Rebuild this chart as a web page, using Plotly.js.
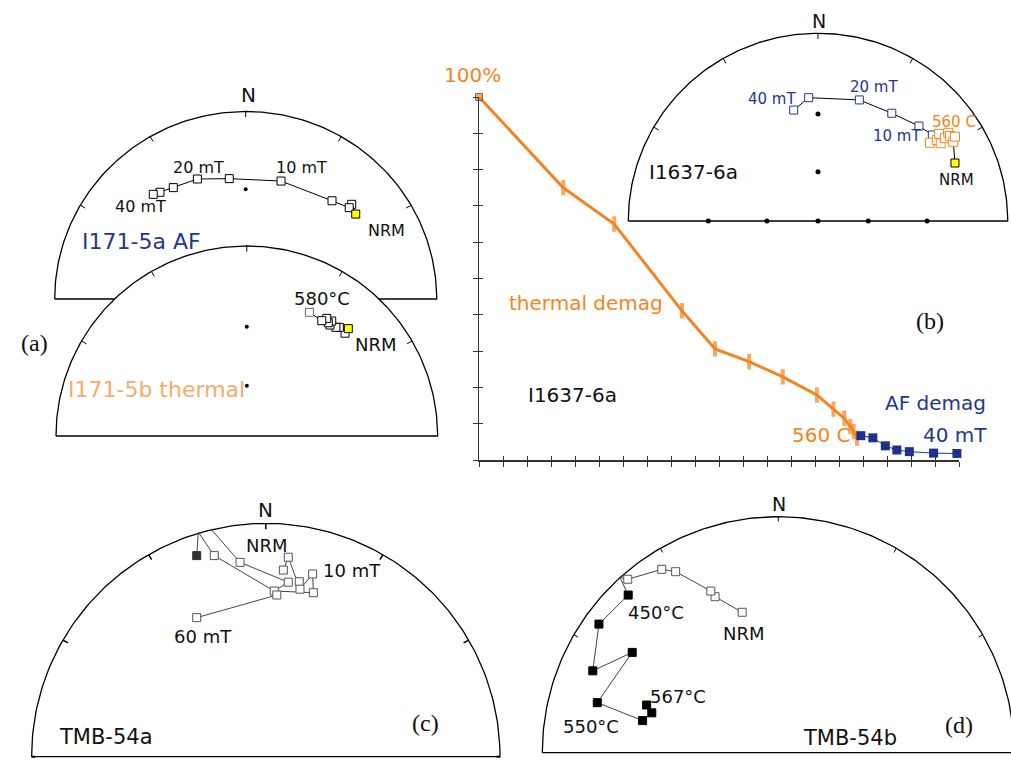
<!DOCTYPE html>
<html><head><meta charset="utf-8">
<script src="https://cdn.plot.ly/plotly-3.0.1.min.js"></script>
<style>body{margin:0;background:#fff}#chart{width:1011px;height:762px}</style>
</head><body><div id="chart"></div>
<script>
// ================= DATA =================
// (b) intensity decay of I1637-6a (percent of NRM vs. demag step index)
const thermalStep = [0, 3.51, 5.63, 8.45, 9.83, 11.25, 12.65, 14.07, 14.76, 15.21, 15.46, 15.60, 15.74];
const thermalPct  = [100, 75.0, 65.0, 41.1, 30.6, 27.1, 22.9, 17.9, 14.0, 11.5, 9.2, 7.8, 6.0];
const afStep = [15.90, 16.40, 16.92, 17.40, 17.92, 18.93, 19.90];
const afPct  = [6.7, 6.1, 3.9, 2.75, 2.3, 1.9, 1.8];

// Directions on equal-area nets, as unit-radius coordinates (E = east, N = north)
// (a) I171-5a AF : NRM -> 40 mT
const a1E = [0.576, 0.555, 0.542, 0.452, 0.185, -0.086, -0.253, -0.379, -0.449, -0.484];
const a1N = [0.453, 0.505, 0.487, 0.524, 0.629, 0.642, 0.640, 0.594, 0.569, 0.558];
const a1DotE = [0], a1DotN = [0.585];
// (a) I171-5b thermal : NRM -> 580°C
const a2E = [0.532, 0.515, 0.485, 0.467, 0.436, 0.445, 0.427, 0.419, 0.393, 0.328];
const a2N = [0.565, 0.541, 0.572, 0.572, 0.584, 0.605, 0.596, 0.619, 0.607, 0.651];
const a2DotE = [0, 0], a2DotN = [0.575, 0.265];
// (b) I1637-6a : NRM -> thermal cluster -> AF 10 ... 40 mT
const bPathE = [0.722, 0.713, 0.603, 0.532, 0.389, 0.218, -0.049, -0.128];
const bPathN = [0.309, 0.422, 0.458, 0.506, 0.574, 0.645, 0.657, 0.591];
const bAfE = [0.603, 0.532, 0.389, 0.218, -0.049, -0.128];
const bAfN = [0.458, 0.506, 0.574, 0.645, 0.657, 0.591];
const bThE = [0.590, 0.626, 0.638, 0.647, 0.669, 0.687, 0.696, 0.713, 0.722];
const bThN = [0.417, 0.432, 0.464, 0.414, 0.441, 0.470, 0.453, 0.422, 0.449];
const bNrmE = [0.722], bNrmN = [0.309];
const bDotE = [0, 0, -0.578, -0.269, 0, 0.265, 0.575];
const bDotN = [0.570, 0.263, 0, 0, 0, 0, 0];
// (c) TMB-54a AF (null = path leaves the net and re-enters)
const cPathE = [0.075, 0.096, 0.146, 0.200, 0.203, 0.036, 0.096, -0.110, -0.231, null, -0.288, -0.295, null, -0.288, -0.220, 0.036, 0.047, -0.295];
const cPathN = [0.800, 0.855, 0.718, 0.783, 0.703, 0.710, 0.748, 0.833, 0.972, null, 0.962, 0.862, null, 0.962, 0.862, 0.710, 0.693, 0.596];
const cOpenE = [0.096, 0.075, 0.096, 0.143, 0.146, 0.200, 0.203, 0.036, 0.047, -0.110, -0.220, -0.295];
const cOpenN = [0.855, 0.800, 0.748, 0.750, 0.718, 0.783, 0.703, 0.710, 0.693, 0.833, 0.862, 0.596];
const cFillE = [-0.295], cFillN = [0.862];
// (d) TMB-54b thermal
const dOpenE = [-0.153, -0.268, -0.286, -0.435, -0.494, -0.638, -0.671];
const dOpenN = [0.595, 0.661, 0.685, 0.767, 0.777, 0.735, 0.743];
const dFillE = [-0.671, -0.636, -0.760, -0.786, -0.619, -0.767, -0.575, -0.536, -0.558];
const dFillN = [0.743, 0.668, 0.545, 0.347, 0.425, 0.212, 0.136, 0.169, 0.202];

// ================= LAYOUT / STYLE =================
const W = 1011, H = 762;
const ORANGE = '#f28522', BLUE = '#24378e', LORANGE = '#f8aa6c';
const FONT = 'DejaVu Sans, Verdana, sans-serif';
const SERIF = 'Liberation Serif, Times New Roman, serif';

const geom = {
  2: {cx: 245.7, cy: 299, rx: 191, ry: 187.5},
  3: {cx: 246.8, cy: 436, rx: 190.8, ry: 190},
  4: {cx: 818, cy: 221, rx: 189.7, ry: 187.7},
  5: {cx: 265.8, cy: 756.7, rx: 234.2, ry: 233.3},
  6: {cx: 778.3, cy: 752.7, rx: 236, ry: 236}
};

const layout = {
  width: W, height: H, autosize: false,
  margin: {l: 0, r: 0, t: 0, b: 0},
  paper_bgcolor: '#fff', plot_bgcolor: 'rgba(0,0,0,0)',
  showlegend: false, hovermode: false,
  annotations: []
};

// demag axes
const demX = {domain: [479 / W, 959.3 / W], range: [0, 20], dtick: 1, tick0: 0};
const demY = {domain: [1 - 460 / H, 1 - 97 / H], range: [0, 100], dtick: 10, tick0: 0};
layout.xaxis = Object.assign({anchor: 'y', showline: true, linecolor: '#333', linewidth: 1.5, ticks: 'outside', ticklen: 5,
  tickcolor: '#333', tickwidth: 1, showticklabels: false, showgrid: false, zeroline: false, fixedrange: true}, demX);
layout.yaxis = Object.assign({anchor: 'x', showline: true, linecolor: '#333', linewidth: 1.5, ticks: 'outside', ticklen: 5,
  tickcolor: '#333', tickwidth: 1, showticklabels: false, showgrid: false, zeroline: false, fixedrange: true}, demY);
layout.xaxis7 = {overlaying: 'x', anchor: 'y', side: 'bottom', range: [0, 20], dtick: 1, tick0: 0, ticks: 'inside', ticklen: 4,
  tickcolor: '#333', tickwidth: 1, showline: false, showticklabels: false, showgrid: false, zeroline: false};
layout.yaxis7 = {overlaying: 'y', anchor: 'x', side: 'left', range: [0, 100], dtick: 10, tick0: 0, ticks: 'inside', ticklen: 4,
  tickcolor: '#333', tickwidth: 1, showline: false, showticklabels: false, showgrid: false, zeroline: false};

// stereonet axes
Object.keys(geom).forEach(n => {
  const g = geom[n];
  const x0 = Math.max(0, g.cx - 1.12 * g.rx), x1 = Math.min(W, g.cx + 1.12 * g.rx);
  const yt = Math.max(0, g.cy - 1.2 * g.ry), yb = Math.min(H, g.cy + 0.06 * g.ry);
  layout['xaxis' + n] = {domain: [x0 / W, x1 / W], range: [(x0 - g.cx) / g.rx, (x1 - g.cx) / g.rx],
    anchor: 'y' + n, visible: false, fixedrange: true};
  layout['yaxis' + n] = {domain: [1 - yb / H, 1 - yt / H], range: [(g.cy - yb) / g.ry, (g.cy - yt) / g.ry],
    anchor: 'x' + n, visible: false, fixedrange: true};
});

// ================= TRACES =================
const traces = [];
// demag curve
traces.push({type: 'scatter', mode: 'lines+markers', x: thermalStep, y: thermalPct, cliponaxis: false,
  line: {color: ORANGE, width: 3},
  marker: {symbol: thermalStep.map((v, i) => i === 0 ? 'square' : 'line-ns'),
           size: thermalStep.map((v, i) => i === 0 ? 7 : 11),
           color: ORANGE,
           line: {color: thermalStep.map((v, i) => i === 0 ? '#5a3000' : ORANGE),
                  width: thermalStep.map((v, i) => i === 0 ? 1 : 4)}}});
traces.push({type: 'scatter', mode: 'lines+markers', x: afStep, y: afPct, cliponaxis: false,
  line: {color: BLUE, width: 1}, marker: {symbol: 'square', size: 9, color: '#1c3090', line: {width: 0}}});
traces.push({type: 'scatter', mode: 'markers', x: [null], y: [null], xaxis: 'x7', yaxis: 'y7'});

function netOutline(n) {
  const xs = [], ys = [];
  for (let a = -90; a <= 90; a += 1) { const t = a * Math.PI / 180; xs.push(Math.sin(t)); ys.push(Math.cos(t)); }
  xs.push(-1); ys.push(0);
  return {type: 'scatter', mode: 'lines', x: xs, y: ys, xaxis: 'x' + n, yaxis: 'y' + n,
    fill: 'toself', fillcolor: '#fff', line: {color: '#000', width: 1.3}};
}
function netTicks(n, angles, len, width) {
  const xs = [], ys = [];
  angles.forEach(a => { const t = a * Math.PI / 180;
    xs.push(Math.sin(t), (1 - len) * Math.sin(t), null); ys.push(Math.cos(t), (1 - len) * Math.cos(t), null); });
  return {type: 'scatter', mode: 'lines', x: xs, y: ys, xaxis: 'x' + n, yaxis: 'y' + n, line: {color: '#000', width: width || 1}};
}
function path(n, xs, ys, color) {
  return {type: 'scatter', mode: 'lines', x: xs, y: ys, xaxis: 'x' + n, yaxis: 'y' + n,
    connectgaps: false, line: {color: color || '#000', width: 1}};
}
function squares(n, xs, ys, fill, edge, size) {
  return {type: 'scatter', mode: 'markers', x: xs, y: ys, xaxis: 'x' + n, yaxis: 'y' + n, cliponaxis: false,
    marker: {symbol: 'square', size: size || 8, color: fill, line: {color: edge, width: 1}}};
}
function dots(n, xs, ys, size) {
  return {type: 'scatter', mode: 'markers', x: xs, y: ys, xaxis: 'x' + n, yaxis: 'y' + n,
    marker: {symbol: 'circle', size: size || 4, color: '#000'}};
}
const tickAngles = [-60, -30, 0, 30, 60];

// (a) upper
traces.push(netOutline(2), netTicks(2, tickAngles, 0.03), dots(2, a1DotE, a1DotN));
traces.push(path(2, a1E, a1N));
traces.push(squares(2, a1E.slice(1), a1N.slice(1), '#fff', '#000'));
traces.push(squares(2, a1E.slice(0, 1), a1N.slice(0, 1), '#ffff00', '#000'));
// (a) lower
traces.push(netOutline(3), netTicks(3, tickAngles, 0.03), dots(3, a2DotE, a2DotN));
traces.push(path(3, a2E, a2N));
traces.push(squares(3, a2E.slice(-1), a2N.slice(-1), '#fff', '#666'));
traces.push(squares(3, a2E.slice(1, -1), a2N.slice(1, -1), '#fff', '#000'));
traces.push(squares(3, a2E.slice(0, 1), a2N.slice(0, 1), '#ffff00', '#000'));
// (b) stereonet
traces.push(netOutline(4), netTicks(4, tickAngles, 0.03), dots(4, bDotE, bDotN, 5));
traces.push(path(4, bPathE, bPathN));
traces.push(squares(4, bAfE, bAfN, '#fff', BLUE));
traces.push(squares(4, bThE, bThN, '#fff', ORANGE, 9));
traces.push(squares(4, bNrmE, bNrmN, '#ffff00', '#000'));
// (c)
traces.push(netOutline(5), netTicks(5, tickAngles, 0.025, 1.5), netTicks(5, [-90, 90], 0.015, 2));
traces.push(path(5, cPathE, cPathN, '#444'));
traces.push(squares(5, cOpenE, cOpenN, '#fff', '#555'));
traces.push(squares(5, cFillE, cFillN, '#333', '#333'));
// (d)
traces.push(netOutline(6), netTicks(6, tickAngles, 0.02));
traces.push(path(6, dOpenE, dOpenN, '#444'), path(6, dFillE, dFillN, '#444'));
traces.push(squares(6, dOpenE.slice(0, -1), dOpenN.slice(0, -1), '#fff', '#555'));
traces.push(squares(6, dFillE.slice(1), dFillN.slice(1), '#000', '#000'));

// ================= TEXT =================
function lab(text, n, x, y, size, color, extra) {
  return Object.assign({text: text, xref: 'x' + n, yref: 'y' + n, x: x, y: y, showarrow: false,
    font: {family: FONT, size: size, color: color || '#111'}}, extra || {});
}
const A = layout.annotations;
// (a)
A.push(lab('N', 2, 0.014, 1.088, 20), lab('20 mT', 2, -0.248, 0.702, 16), lab('10 mT', 2, 0.293, 0.702, 16),
  lab('40 mT', 2, -0.553, 0.492, 16), lab('NRM', 2, 0.738, 0.368, 16), lab('I171-5a AF', 2, -0.548, 0.306, 22, BLUE));
A.push(lab('580°C', 3, 0.393, 0.725, 18), lab('NRM', 3, 0.676, 0.484, 18), lab('I171-5b thermal', 3, -0.472, 0.246, 22, LORANGE));
A.push({text: '(a)', xref: 'paper', yref: 'paper', x: 19 / W, y: 1 - 343 / H, showarrow: false, font: {family: SERIF, size: 24, color: '#111'}});
// (b) demag
A.push(lab('100%', '', 0, 100, 20, ORANGE, {yshift: 22, xshift: -7}), lab('thermal demag', '', 4.47, 43.2, 20, ORANGE),
  lab('I1637-6a', '', 3.89, 17.9, 20), lab('560 C', '', 14.28, 6.9, 20, ORANGE), lab('AF demag', '', 19.02, 15.6, 20, BLUE),
  lab('40 mT', '', 19.82, 6.9, 20, BLUE), lab('(b)', '', 18.79, 38.3, 24, '#111', {font: {family: SERIF, size: 24, color: '#111'}}));
// (b) net
A.push(lab('N', 4, 0.005, 1.067, 19), lab('40 mT', 4, -0.240, 0.650, 15, BLUE), lab('20 mT', 4, 0.293, 0.712, 15, BLUE),
  lab('10 mT', 4, 0.415, 0.453, 15, BLUE), lab('560 C', 4, 0.717, 0.529, 15, ORANGE), lab('NRM', 4, 0.731, 0.218, 15),
  lab('I1637-6a', 4, -0.655, 0.259, 20));
// (c)
A.push(lab('N', 5, 0, 1.057, 20), lab('NRM', 5, 0.004, 0.907, 18), lab('10 mT', 5, 0.367, 0.800, 18),
  lab('60 mT', 5, -0.269, 0.514, 18), lab('TMB-54a', 5, -0.682, 0.083, 21),
  lab('(c)', 5, 0.684, 0.143, 24, '#111', {font: {family: SERIF, size: 24, color: '#111'}}));
// (d)
A.push(lab('N', 6, 0.004, 1.054, 19), lab('450°C', 6, -0.519, 0.593, 18), lab('550°C', 6, -0.794, 0.110, 18),
  lab('567°C', 6, -0.424, 0.240, 18), lab('NRM', 6, -0.144, 0.503, 18), lab('TMB-54b', 6, 0.304, 0.061, 21),
  lab('(d)', 6, 0.766, 0.117, 24, '#111', {font: {family: SERIF, size: 24, color: '#111'}}));

traces.forEach(t => { t.hoverinfo = 'skip'; t.showlegend = false; });
Plotly.newPlot('chart', traces, layout, {staticPlot: true, displayModeBar: false});
</script>
</body></html>
